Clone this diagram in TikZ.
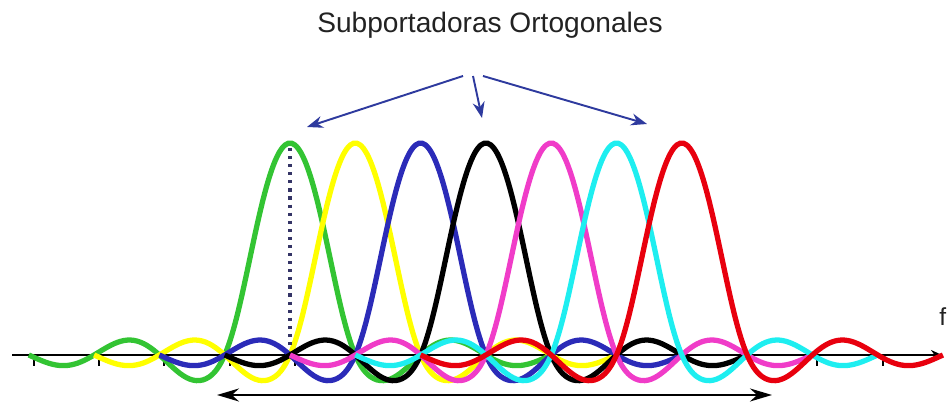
\documentclass[tikz,border=0pt]{standalone}
\usepackage{fontspec}
\setmainfont{Liberation Sans}
\usepackage{xcolor}
\usepackage{tikz}
\usetikzlibrary{arrows.meta,positioning,calc}
\definecolor{ofgreen}{HTML}{33C433}
\definecolor{ofyellow}{HTML}{FFFF00}
\definecolor{ofblue}{HTML}{2B2BB8}
\definecolor{ofblack}{HTML}{000000}
\definecolor{ofmagenta}{HTML}{F03CC8}
\definecolor{ofcyan}{HTML}{1EEEF0}
\definecolor{ofred}{HTML}{E8000E}
\definecolor{ofarrow}{HTML}{2E3A9E}
\definecolor{ofdots}{HTML}{343466}
\definecolor{oftext}{HTML}{222222}

\begin{document}
\begin{tikzpicture}[
      declare function={sincd(\u)=sin(180*\u)/(pi*\u)*(0.55+0.45*exp(-(\u*\u)*(\u*\u)));},
      carrier/.style={line width=3pt,domain=-4:4,samples=160,smooth},
      axisline/.style={line width=1.5pt,black,-{Stealth[length=2.2mm,width=2mm]}},
      pointer/.style={-{Stealth[length=3.2mm,width=2.4mm]},line width=1.1pt,ofarrow},
      span/.style={{Stealth[length=4.4mm,width=2.6mm]}-{Stealth[length=4.4mm,width=2.6mm]},line width=1.3pt,black}]
    \useasboundingbox (0,0) rectangle (18.94,8.06);
    % frequency axis
    \coordinate (axl) at (0.24,0.96);
    \coordinate (axr) at (18.84,0.96);
    \foreach \k in {-4,...,10}
      \draw[line width=1.2pt] ({5.9+1.306*\k},0.96) -- ++(0,-0.22);
    \draw[axisline] (axl) -- (axr);
    \node[anchor=east,inner sep=0pt,font=\fontsize{14}{16}\selectfont,text=oftext] (flab) at (18.93,1.72) {f};
    % subcarriers
    \draw[carrier,ofgreen]   plot ({5.80+1.306*\x},{0.96+4.24*sincd(\x)});
    \draw[carrier,ofyellow]  plot ({7.106+1.306*\x},{0.96+4.24*sincd(\x)});
    \draw[carrier,ofblue]    plot ({8.412+1.306*\x},{0.96+4.24*sincd(\x)});
    \draw[carrier,ofblack]   plot ({9.718+1.306*\x},{0.96+4.24*sincd(\x)});
    \draw[carrier,ofmagenta] plot ({11.024+1.306*\x},{0.96+4.24*sincd(\x)});
    \draw[carrier,ofcyan]    plot ({12.33+1.306*\x},{0.96+4.24*sincd(\x)});
    \draw[carrier,ofred]     plot ({13.636+1.306*\x},{0.96+4.24*sincd(\x)});
    % peak marker
    \coordinate (gpk) at (5.80,5.10);
    \coordinate (gbase) at (5.80,1.08);
    \draw[ofdots,line width=1.8pt,dash pattern=on 1.8pt off 2.8pt] (gpk) -- (gbase);
    % title and pointers
    \node[font=\fontsize{16}{19}\selectfont,text=oftext] (title) at (9.80,7.56) {Subportadoras Ortogonales};
    \coordinate (srcl) at (9.26,6.54);
    \coordinate (srcm) at (9.46,6.54);
    \coordinate (srcr) at (9.66,6.54);
    \coordinate (tgl) at (6.14,5.52);
    \coordinate (tgm) at (9.64,5.70);
    \coordinate (tgr) at (12.94,5.58);
    \draw[pointer] (srcl) -- (tgl);
    \draw[pointer] (srcm) -- (tgm);
    \draw[pointer] (srcr) -- (tgr);
    % bandwidth
    \coordinate (bl) at (4.34,0.16);
    \coordinate (br) at (15.44,0.16);
    \draw[span] (bl) -- (br);
  \end{tikzpicture}
\end{document}
